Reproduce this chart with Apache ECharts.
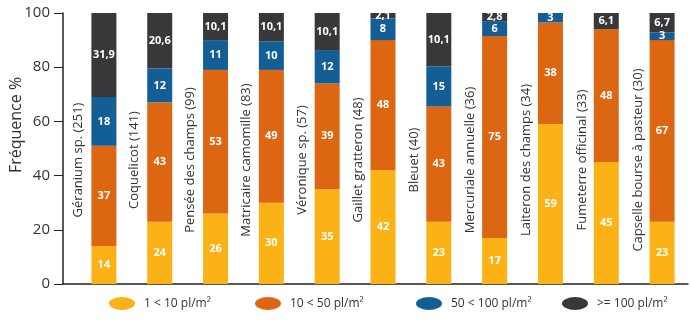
<!DOCTYPE html>
<html>
<head>
<meta charset="utf-8">
<script src="https://cdn.jsdelivr.net/npm/echarts@6/dist/echarts.min.js"></script>
<style>
html,body{margin:0;padding:0;background:#fff;}
#chart{width:690px;height:334px;}
</style>
</head>
<body>
<div id="chart"></div>
<script>
var categories = ['Géranium sp. (251)','Coquelicot (141)','Pensée des champs (99)','Matricaire camomille (83)','Véronique sp. (57)','Gaillet gratteron (48)','Bleuet (40)','Mercuriale annuelle (36)','Laiteron des champs (34)','Fumeterre officinal (33)','Capselle bourse à pasteur (30)'];
var seriesNames = ['1 < 10 pl/m²','10 < 50 pl/m²','50 < 100 pl/m²','>= 100 pl/m²'];
// segment heights as drawn in the picture
var low = [14,23,26,30,35,42,23,17,59,45,23];
var mid = [37,44,53,49,39,48,42.5,74.5,37.5,49,67];
var high = [18,12.5,11,10.5,12.3,8,14.8,5.5,3.5,0,2.8];
var veryHigh = [31.5,20.5,10,10.5,13.7,2,19.7,3,0,6,7.2];
// values printed on the segments
var lowText = ['14','24','26','30','35','42','23','17','59','45','23'];
var midText = ['37','43','53','49','39','48','43','75','38','48','67'];
var highText = ['18','12','11','10','12','8','15','6','3','','3'];
var veryHighText = ['31,9','20,6','10,1','10,1','10,1','2,1','10,1','2,8','','6,1','6,7'];
var yTicks = [0,20,40,60,80,100];
var colors = ['#FBB217','#DC6612','#135E94','#38383A'];

var chart = echarts.init(document.getElementById('chart'));
var font = '"Open Sans", "Noto Sans", sans-serif';
var values = [low, mid, high, veryHigh];
var texts = [lowText, midText, highText, veryHighText];
var series = values.map(function(arr, i){
  return {
    name: seriesNames[i], type: 'bar', stack: 'total', xAxisIndex: 0, yAxisIndex: 0,
    barWidth: 25, data: arr,
    itemStyle: {color: colors[i]},
    label: {show: true, position: 'inside', color: '#fff', fontSize: 11, fontWeight: 'bold', fontFamily: font,
      formatter: function(p){ return texts[i][p.dataIndex]; }}
  };
});
var legendLefts = [104, 250, 411, 557];
var legends = seriesNames.map(function(n, i){
  return {
    data: [n], left: legendLefts[i], top: 292, itemWidth: 28, itemHeight: 13, itemGap: 0,
    icon: 'path://M0,5 A10,5 0 1,1 20,5 A10,5 0 1,1 0,5 Z',
    textStyle: {fontSize: 12, color: '#333', fontFamily: font, padding: [0,0,0,3]},
    selectedMode: false
  };
});
chart.setOption({
  animation: false,
  textStyle: {fontFamily: font},
  color: colors,
  legend: legends,
  grid: [
    {left: 76, width: 616, top: 13, bottom: 50},
    {left: 63, right: 2, top: 13, bottom: 50},
    {left: 50, width: 616, top: 13, bottom: 50},
    {left: 63, right: 2, top: 13, height: 224}
  ],
  xAxis: [
    {type: 'category', gridIndex: 0, data: categories, axisLine: {show: false}, axisTick: {show: false}, axisLabel: {show: false}},
    {type: 'value', gridIndex: 1, min: 0, max: 1, axisLine: {show: true, lineStyle: {color: '#222', width: 1.5}}, axisTick: {show: false}, axisLabel: {show: false}, splitLine: {show: false}},
    {type: 'category', gridIndex: 2, data: categories, axisLine: {show: false}, axisTick: {show: false},
     axisLabel: {show: true, inside: true, rotate: 90, margin: 124, align: 'center', verticalAlign: 'middle', fontSize: 13, color: '#333', fontFamily: font, interval: 0}},
    {type: 'value', gridIndex: 3, show: false}
  ],
  yAxis: [
    {type: 'value', gridIndex: 0, min: 0, max: 100, show: false},
    {type: 'value', gridIndex: 1, min: 0, max: 100, interval: 20,
     axisLine: {show: true, lineStyle: {color: '#222', width: 1.5}},
     axisTick: {show: true, length: 9, lineStyle: {color: '#222'}},
     axisLabel: {fontSize: 15, color: '#333', margin: 13, formatter: function(v){ return yTicks.indexOf(v) >= 0 ? String(v) : ''; }},
     splitLine: {show: false}},
    {type: 'value', gridIndex: 2, min: 0, max: 100, show: false},
    {type: 'value', gridIndex: 3, min: 0, max: 1, axisLine: {show: false}, axisTick: {show: false}, axisLabel: {show: false}, splitLine: {show: false},
     name: 'Fréquence %', nameLocation: 'middle', nameGap: 49, nameRotate: 90,
     nameTextStyle: {fontSize: 16, color: '#333'}}
  ],
  series: series
});
</script>
</body>
</html>
